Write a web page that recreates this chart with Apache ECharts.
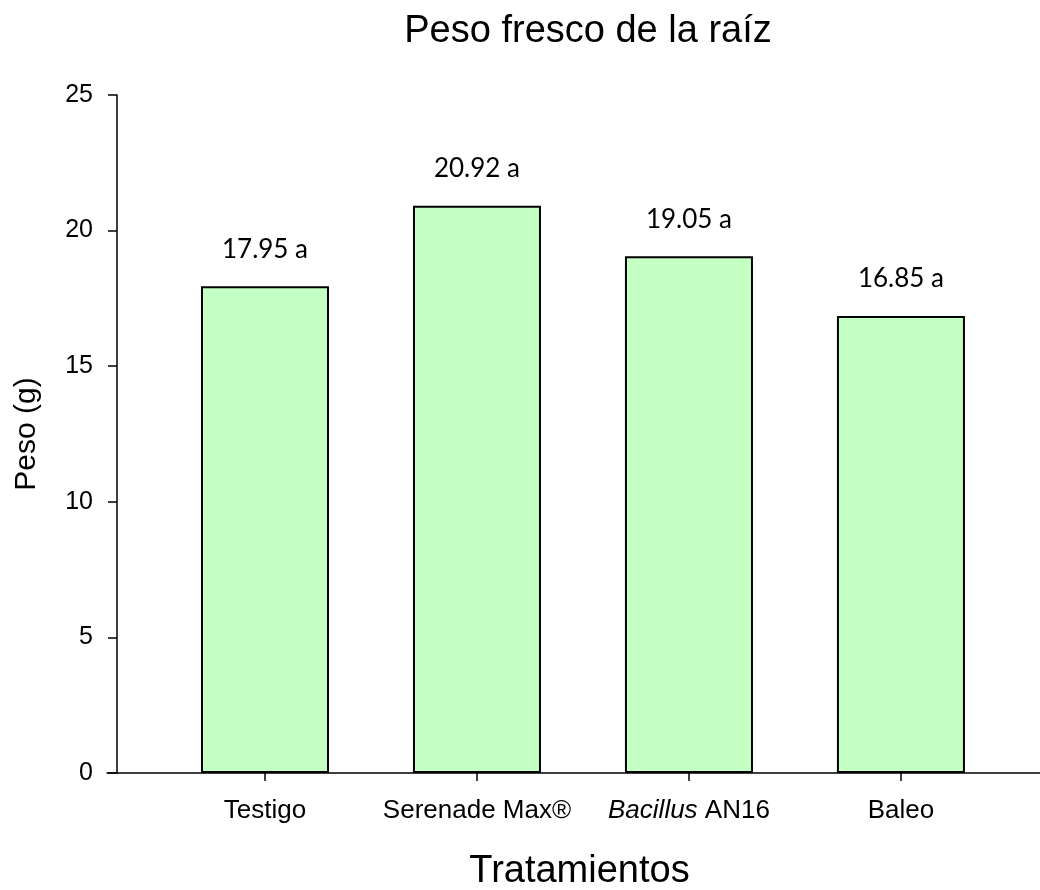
<!DOCTYPE html>
<html>
<head>
<meta charset="utf-8">
<title>Peso fresco de la raíz</title>
<script src="https://cdn.jsdelivr.net/npm/echarts@6/dist/echarts.min.js"></script>
<style>
  html, body { margin: 0; padding: 0; background: #fff; }
  #chart { width: 1040px; height: 890px; }
</style>
</head>
<body>
<div id="chart"></div>
<script>
// datos
var categories = ["Testigo", "Serenade Max®", "Bacillus AN16", "Baleo"];
var positions = [1, 2, 3, 4];
var values = [17.95, 20.92, 19.05, 16.85];
var letters = ["a", "a", "a", "a"];

var chart = echarts.init(document.getElementById("chart"));

var barData = [];
positions.forEach(function (p, i) {
  barData.push([p, values[i]]);
});

var option = {
  backgroundColor: "#fff",
  animation: false,
  title: {
    text: "Peso fresco de la raíz",
    left: 583,
    textAlign: "center",
    top: 8,
    textStyle: {
      fontFamily: "Liberation Sans",
      fontWeight: "normal",
      fontSize: 38,
      color: "#000"
    }
  },
  grid: {
    left: 107,
    right: 0,
    top: 95,
    bottom: 117,
    outerBoundsMode: "none"
  },
  xAxis: {
    type: "value",
    min: 0.2547,
    max: 4.656,
    name: "Tratamientos",
    nameLocation: "middle",
    nameGap: 80,
    nameTextStyle: {
      fontFamily: "Liberation Sans",
      fontSize: 38,
      color: "#000",
      padding: [0, 0, 0, 12]
    },
    splitLine: { show: false },
    axisLine: { lineStyle: { color: "#000", width: 1.5 } },
    axisTick: {
      customValues: positions,
      length: 8,
      lineStyle: { color: "#000", width: 1.5 }
    },
    axisLabel: {
      customValues: positions,
      margin: 25,
      fontFamily: "Liberation Sans",
      fontSize: 26,
      color: "#000",
      formatter: function (v) {
        var name = categories[positions.indexOf(v)] || "";
        if (name.indexOf("Bacillus") === 0) {
          return "{i|Bacillus}" + name.substring(8);
        }
        return name;
      },
      rich: {
        i: {
          fontFamily: "Liberation Sans",
          fontStyle: "italic",
          fontSize: 26,
          color: "#000"
        }
      }
    }
  },
  yAxis: {
    type: "value",
    min: 0,
    max: 25,
    interval: 5,
    offset: -10,
    name: "Peso (g)",
    nameLocation: "middle",
    nameGap: 75,
    nameTextStyle: {
      fontFamily: "Liberation Sans",
      fontSize: 30,
      color: "#000"
    },
    splitLine: { show: false },
    axisLine: { show: true, onZero: false, lineStyle: { color: "#000", width: 1.5 } },
    axisTick: { show: true, length: 9, lineStyle: { color: "#000", width: 1.5 } },
    axisLabel: {
      margin: 24,
      fontFamily: "Liberation Sans",
      fontSize: 25,
      color: "#000"
    }
  },
  series: [
    {
      type: "bar",
      barWidth: 128,
      data: barData,
      itemStyle: {
        color: "#C4FFC4",
        borderColor: "#000",
        borderWidth: 2
      },
      label: {
        show: true,
        position: "top",
        distance: 24,
        fontFamily: "Lato",
        fontSize: 26,
        color: "#000",
        formatter: function (p) {
          return values[p.dataIndex].toFixed(2) + " " + letters[p.dataIndex];
        }
      }
    }
  ]
};

chart.setOption(option);
</script>
</body>
</html>
